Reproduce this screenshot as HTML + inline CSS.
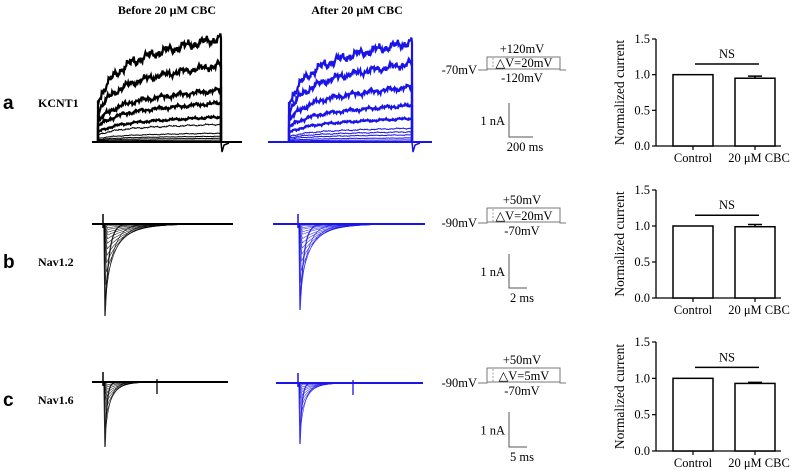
<!DOCTYPE html>
<html><head><meta charset="utf-8">
<style>
html,body{margin:0;padding:0;background:#fff;}
svg{display:block;font-family:"Liberation Serif",serif;}
.sans{font-family:"Liberation Sans",sans-serif;}
</style></head>
<body>
<svg id="fig" width="791" height="471" viewBox="0 0 791 471" xmlns="http://www.w3.org/2000/svg">
  <text x="167" y="14" text-anchor="middle" font-size="12" font-weight="bold">Before 20 μM CBC</text>
  <text x="357" y="14" text-anchor="middle" font-size="12" font-weight="bold">After 20 μM CBC</text>

  <text class="sans" x="3" y="109" font-size="19" font-weight="bold">a</text>
  <text x="38" y="107" font-size="12" font-weight="bold">KCNT1</text>
  <text class="sans" x="3" y="268" font-size="19" font-weight="bold">b</text>
  <text x="38" y="266" font-size="12" font-weight="bold">Nav1.2</text>
  <text class="sans" x="3" y="406" font-size="19" font-weight="bold">c</text>
  <text x="38" y="404" font-size="12" font-weight="bold">Nav1.6</text>

  <g id="traces"></g>
  <g id="protocols"></g>
  <g id="bars"></g>
</svg>
<script>
// ---- bar chart data ----
const barCategories = ["Control", "20 μM CBC"];
const barValuesA = [1.0, 0.95];
const barErrorsA = [0, 0.03];
const barValuesB = [1.0, 0.99];
const barErrorsB = [0, 0.03];
const barValuesC = [1.0, 0.93];
const barErrorsC = [0, 0.015];
const yTicks = [0.0, 0.5, 1.0, 1.5];
const yTickLabels = ["0.0", "0.5", "1.0", "1.5"];
// ---- trace data (relative amplitudes) ----
const kcntBefore = [1.0, 0.74, 0.5, 0.375, 0.24, 0.17, 0.085, 0.055, 0.035, 0.018];
const kcntAfter = [0.98, 0.77, 0.54, 0.36, 0.23, 0.135, 0.1, 0.07, 0.04, 0.02];
const nav12Before = [1.0, 0.82, 0.66, 0.52, 0.42, 0.34, 0.27, 0.21, 0.16, 0.12, 0.09, 0.06, 0.04, 0.02];
const nav12After = [1.0, 0.84, 0.68, 0.54, 0.43, 0.35, 0.28, 0.22, 0.17, 0.12, 0.09, 0.06, 0.04, 0.02];
const nav16Before = [1.0, 0.7, 0.5, 0.38, 0.29, 0.22, 0.16, 0.11, 0.07, 0.04];
const nav16After = [1.0, 0.68, 0.48, 0.36, 0.27, 0.2, 0.14, 0.1, 0.06, 0.03];

const NS = "http://www.w3.org/2000/svg";
function mk(tag, attrs, parent) {
  const e = document.createElementNS(NS, tag);
  for (const k in attrs) e.setAttribute(k, attrs[k]);
  parent.appendChild(e);
  return e;
}
function noise(i, k) {
  return Math.sin(i * 1.7 + k * 3.1) * 0.6 + Math.sin(i * 0.63 + k * 7.7) * 0.8 + Math.sin(i * 0.21 + k) * 1.0 + Math.sin(i * 2.9 + k * 1.3) * 0.5;
}

const tr = document.getElementById('traces');

function kcnt(amps, x0, x1, lx0, lx1, base, scale, color, tag) {
  const g = mk('g', {}, tr);
  
  
  const bl = mk('line', {x1: lx0, y1: base, x2: lx1, y2: base, stroke: color, 'stroke-width': 2}, g);
  
  
  amps.forEach((a, k) => {
    let d = `M${x0},${base}`;
    const n = 200;
    for (let i = 0; i <= n; i++) {
      const t = i / n;
      const f = 0.4 + 0.35 * (1 - Math.exp(-t / 0.15)) + 0.25 * t;
      const y = base - a * scale * f + noise(i, k) * a * 2.4;
      d += ` L${(x0 + t * (x1 - x0)).toFixed(1)},${y.toFixed(1)}`;
    }
    d += ` L${x1},${base}`;
    const p = mk('path', {d, fill: 'none', stroke: color, 'stroke-width': a > 0.2 ? 2.2 : 1}, g);
    
    
  });
  const tail = mk('path', {d: `M${x1},${base} L${x1 + 1},${base + 10} L${x1 + 3},${base + 3} L${x1 + 8},${base + 1}`, fill: 'none', stroke: color, 'stroke-width': 1.5}, g);
  
  
  const vr = mk('line', {x1: x1, y1: base - amps[0] * scale - 3, x2: x1, y2: base, stroke: color, 'stroke-width': 1}, g);
  
  
}
kcnt(kcntBefore, 98, 221, 92, 242, 142, 104, '#000', 'before');
kcnt(kcntAfter, 289, 412, 268, 432, 142, 102, '#1a14e6', 'after');

function nav(amps, lx0, lx1, xs, base, depth, width, color, tag, artX) {
  const g = mk('g', {}, tr);
  
  
  amps.forEach((a, k) => {
    const tau = width * (0.2 + (1 - a) * 1.1);
    const tp = xs + 1 + (1 - a) * 3;
    let d = `M${xs},${base} L${tp},${(base + a * depth).toFixed(1)}`;
    for (let x = tp; x <= lx1; x += 1) {
      const y = base + a * depth * Math.exp(-(x - tp) / tau);
      d += ` L${x.toFixed(1)},${y.toFixed(1)}`;
    }
    const p = mk('path', {d, fill: 'none', stroke: color, 'stroke-width': k === 0 ? 1.3 : 0.6, opacity: 0.85}, g);
    
    
  });
  const bl = mk('line', {x1: lx0, y1: base, x2: lx1, y2: base, stroke: color, 'stroke-width': 2}, g);
  
  
  const cap = mk('line', {x1: xs - 1, y1: base - 10, x2: xs - 1, y2: base + 4, stroke: color, 'stroke-width': 1.5}, g);
  
  
  if (artX) {
    const ar = mk('line', {x1: artX, y1: base - 3, x2: artX, y2: base + 12, stroke: color, 'stroke-width': 1.3}, g);
    
    
  }
}
nav(nav12Before, 92, 233, 104, 224, 92, 20, '#000', 'nav12-before-traces', 0);
nav(nav12After, 273, 425, 299, 224, 86, 20, '#1a14e6', 'nav12-after-traces', 0);
nav(nav16Before, 92, 228, 104, 382, 65, 10, '#000', 'nav16-before-traces', 157);
nav(nav16After, 276, 423, 299, 383, 61, 10, '#1a14e6', 'nav16-after-traces', 353);

const pr = document.getElementById('protocols');
function protocol(yTop, yBot, top, hold, bot, dv, sbTop, sbBot, sbX2, tLabel, tag) {
  const g = mk('g', {'font-size': 12.5}, pr);
  
  
  const yb = yBot + 1;
  const pl = mk('path', {d: `M478,${yb} L487,${yb} L487,${yTop} L560,${yTop} L560,${yb} L566,${yb} M487,${yBot} L560,${yBot}`, fill: 'none', stroke: '#777', 'stroke-width': 1}, g);
  
  
  const dl = mk('line', {x1: 493, y1: yTop + 1, x2: 493, y2: yBot, stroke: '#888', 'stroke-dasharray': '2,1.5', 'stroke-width': 0.8}, g);
  
  
  const texts = [[522, yTop - 4, top, 'middle', 'top-voltage'], [477, yb + 4, hold, 'end', 'holding-voltage'],
    [522, yBot + 13, bot, 'middle', 'bottom-voltage'], [524, yBot - 2, dv, 'middle', 'step-size']];
  texts.forEach(([x, y, s, a, nm]) => {
    const t = mk('text', {x, y, 'text-anchor': a}, g);
    t.textContent = s;
    
    
  });
  const sb = mk('path', {d: `M509,${sbTop} L509,${sbBot} L${sbX2},${sbBot}`, fill: 'none', stroke: '#555', 'stroke-width': 1}, g);
  
  
  const t1 = mk('text', {x: 505, y: (sbTop + sbBot) / 2 + 5, 'text-anchor': 'end'}, g);
  t1.textContent = '1 nA';
  
  
  const t2 = mk('text', {x: (509 + sbX2) / 2 + 4, y: sbBot + 14, 'text-anchor': 'middle'}, g);
  t2.textContent = tLabel;
  
  
}
protocol(57, 69, '+120mV', '-70mV', '-120mV', '△V=20mV', 103, 137, 533, '200 ms', 'kcnt1');
protocol(208, 222, '+50mV', '-90mV', '-70mV', '△V=20mV', 254, 288, 527, '2 ms', 'nav12');
protocol(368, 382, '+50mV', '-90mV', '-70mV', '△V=5mV', 412, 447, 527, '5 ms', 'nav16');

const bg = document.getElementById('bars');
function barChart(values, errors, yTopPx, yBotPx, tag) {
  const g = mk('g', {'font-size': 12.5}, bg);
  
  
  const ax = 656;
  const ys = v => yBotPx - (v / 1.5) * (yBotPx - yTopPx);
  const xc = [693, 755];
  const bw = 40;
  const yl = mk('line', {x1: ax, y1: yTopPx, x2: ax, y2: yBotPx, stroke: '#000', 'stroke-width': 1.3}, g);
  
  
  const xl = mk('line', {x1: ax, y1: yBotPx, x2: 781, y2: yBotPx, stroke: '#000', 'stroke-width': 1.3}, g);
  
  
  yTicks.forEach((v, i) => {
    const tk = mk('line', {x1: ax - 4, y1: ys(v), x2: ax, y2: ys(v), stroke: '#000', 'stroke-width': 1.2}, g);
    
    
    const t = mk('text', {x: ax - 6, y: ys(v) + 4, 'text-anchor': 'end'}, g);
    t.textContent = yTickLabels[i];
    
    
  });
  const yt = mk('text', {x: 0, y: 0, 'text-anchor': 'middle', 'font-size': 13.5, transform: `translate(${ax - 32},${(yTopPx + yBotPx) / 2}) rotate(-90)`}, g);
  yt.textContent = 'Normalized current';
  
  
  values.forEach((v, i) => {
    const r = mk('rect', {x: xc[i] - bw / 2, y: ys(v), width: bw, height: ys(0) - ys(v), fill: '#fff', stroke: '#000', 'stroke-width': 1.5}, g);
    
    
    if (errors[i] > 0) {
      const e = mk('path', {d: `M${xc[i]},${ys(v)} L${xc[i]},${ys(v + errors[i])} M${xc[i] - 7},${ys(v + errors[i])} L${xc[i] + 7},${ys(v + errors[i])}`, stroke: '#000', 'stroke-width': 1.5, fill: 'none'}, g);
      
      
    }
    const tk = mk('line', {x1: xc[i], y1: yBotPx, x2: xc[i], y2: yBotPx + 4, stroke: '#000', 'stroke-width': 1.2}, g);
    
    
    const t = mk('text', {x: xc[i] + (i ? 4 : 0), y: yBotPx + 16, 'text-anchor': 'middle'}, g);
    t.textContent = barCategories[i];
    
    
  });
  const nl = mk('line', {x1: 695, y1: ys(1.15), x2: 759, y2: ys(1.15), stroke: '#000', 'stroke-width': 1.5}, g);
  
  
  const nt = mk('text', {x: 727, y: ys(1.15) - 6, 'text-anchor': 'middle'}, g);
  nt.textContent = 'NS';
  
  
}
barChart(barValuesA, barErrorsA, 39, 146, 'kcnt1');
barChart(barValuesB, barErrorsB, 190, 298, 'nav12');
barChart(barValuesC, barErrorsC, 342, 451, 'nav16');
</script>
</body></html>
